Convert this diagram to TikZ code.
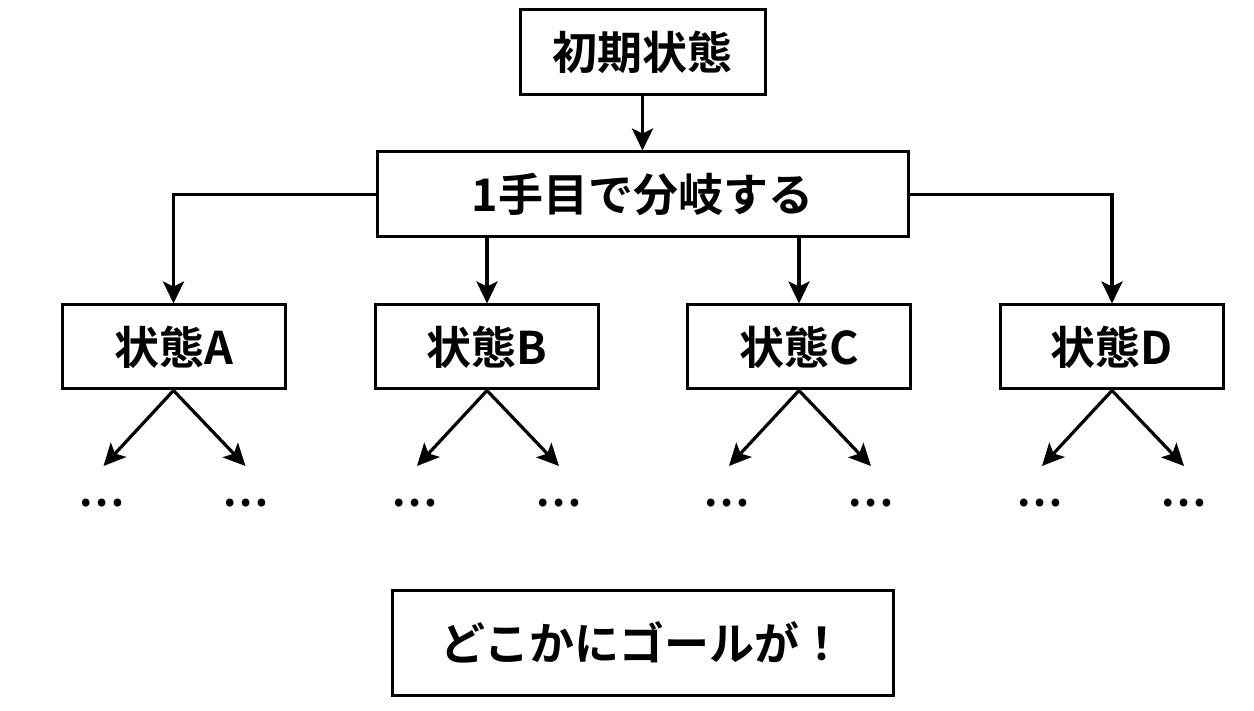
\documentclass[tikz,border=0pt]{standalone}
\usepackage{fontspec}
\newfontfamily\jp{Noto Sans CJK JP Bold}
\usetikzlibrary{arrows.meta}
\begin{document}
\begin{tikzpicture}[x=1pt,y=-1pt,
  box/.style={draw,line width=3pt,fill=white,inner sep=0pt,font=\jp\fontsize{45}{50}\selectfont},
  con/.style={line width=3.2pt,-{Stealth[length=22pt,width=21pt,inset=5pt]}},
  dots/.style={font=\jp\fontsize{42}{46}\selectfont,inner sep=0pt}]
\useasboundingbox (0,0) rectangle (1254,711);
\node[box,minimum width=245pt,minimum height=85pt] (init) at (642.5,52.5) {初期状態};
\node[box,minimum width=531pt,minimum height=85pt] (branch) at (642.5,194.5) {1手目で分岐する};
\foreach \n/\x/\l in {A/173.5/A,B/487/B,C/799/C,D/1112/D}{
  \node[box,minimum width=223pt,minimum height=84pt] (s\n) at (\x,347) {状態\l};
  \coordinate (l\n) at (\x-70,466);
  \coordinate (r\n) at (\x+72,466);
  \node[dots] (dl\n) at (\x-72,503) {…};
  \node[dots] (dr\n) at (\x+72,503) {…};
  \draw[con] (s\n.south) -- (l\n);
  \draw[con] (s\n.south) -- (r\n);
}
\draw[con] (init) -- (branch);
\draw[con] (branch.west) -| (sA.north);
\draw[con] (branch.east) -| (sD.north);
\draw[con] (branch.south -| sB.north) -- (sB.north);
\draw[con] (branch.south -| sC.north) -- (sC.north);
\node[box,minimum width=501pt,minimum height=105pt] (goal) at (642.5,642.5) {どこかにゴールが！};
\end{tikzpicture}
\end{document}
